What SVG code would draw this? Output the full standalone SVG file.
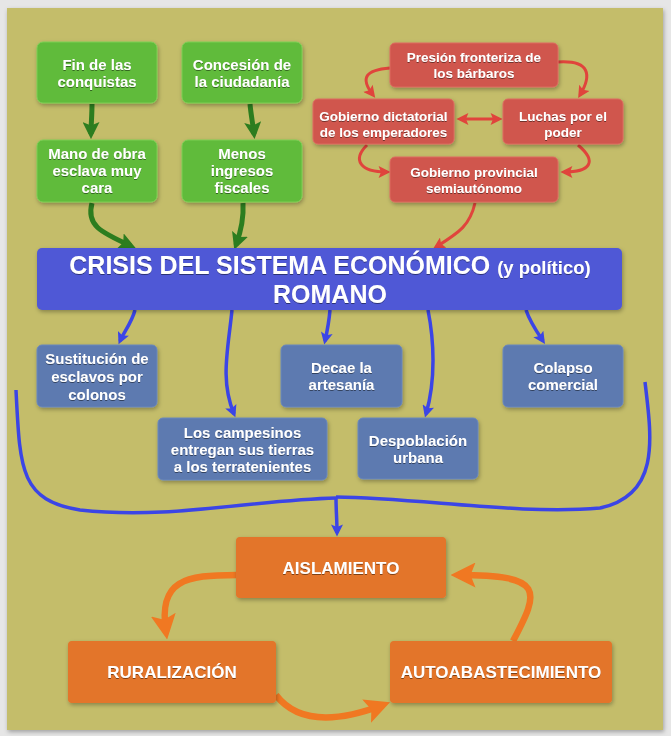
<svg xmlns="http://www.w3.org/2000/svg" width="671" height="736" viewBox="0 0 671 736">
<defs>
<style>
.t{font-family:"Liberation Sans",Arial,Helvetica,sans-serif;font-weight:bold;fill:#ffffff;text-anchor:middle;filter:url(#ts)}
.g{fill:#60bb3b;stroke:#7ccf55;stroke-width:1}
.r{fill:#d0574e;stroke:#dd6a60;stroke-width:1}
.b{fill:#5d7ab0;stroke:#6987bd;stroke-width:1}
.o{fill:#e3742a}
.box{filter:url(#sh)}
.cg{fill:none;stroke:#2c7d1f;stroke-width:5;marker-end:url(#ag)}
.cr{fill:none;stroke:#e0443c;stroke-width:3;marker-end:url(#ar)}
.cb{fill:none;stroke:#3b45e6;stroke-width:3.5}
.co{fill:none;stroke:#f07822;stroke-width:6.5;marker-end:url(#ao)}
</style>
<filter id="sh" x="-10%" y="-15%" width="125%" height="140%">
<feDropShadow dx="1" dy="2" stdDeviation="2" flood-color="#000" flood-opacity="0.3"/>
</filter>
<filter id="ts" x="-5%" y="-20%" width="110%" height="150%">
<feDropShadow dx="0" dy="1" stdDeviation="0.7" flood-color="#000" flood-opacity="0.45"/>
</filter>
<marker id="ag" viewBox="0 0 10 10" refX="7" refY="5" markerUnits="userSpaceOnUse" markerWidth="17" markerHeight="17" orient="auto"><path d="M0,0 L10,5 L0,10 L2,5 z" fill="#2c7d1f"/></marker>
<marker id="ar" viewBox="0 0 10 10" refX="7" refY="5" markerUnits="userSpaceOnUse" markerWidth="13" markerHeight="12" orient="auto-start-reverse"><path d="M0,0 L10,5 L0,10 L2,5 z" fill="#e0443c"/></marker>
<marker id="ab" viewBox="0 0 10 10" refX="7" refY="5" markerUnits="userSpaceOnUse" markerWidth="15" markerHeight="12" orient="auto"><path d="M0,0 L10,5 L0,10 L2,5 z" fill="#3b45e6"/></marker>
<marker id="ao" viewBox="0 0 10 10" refX="7" refY="5" markerUnits="userSpaceOnUse" markerWidth="25" markerHeight="25" orient="auto"><path d="M0,0 L10,5 L0,10 L2,5 z" fill="#f07822"/></marker>
</defs>
<rect x="0" y="0" width="671" height="736" fill="#e6e6e6"/>
<rect x="7" y="8" width="656" height="722" fill="#c4bd6b" filter="url(#sh)"/>

<g id="connectors">
<path class="cg" d="M92,104 C92,115 91,125 91,134"/>
<path class="cg" d="M250,104 C251,115 253,125 254,134"/>
<path class="cg" d="M92,203 C86,225 100,232 131,246"/>
<path class="cg" d="M243,203 C244,220 240,234 236,245"/>
<path class="cr" d="M390,68 C365,70 360,78 373,95"/>
<path class="cr" d="M558,62 C590,60 592,75 580,95"/>
<path class="cr" d="M460,119 L499,119" style="marker-start:url(#ar)"/>
<path class="cr" d="M367,145 C352,160 360,172 387,172"/>
<path class="cr" d="M578,145 C598,162 590,172 564,172"/>
<path class="cr" d="M475,203 C470,225 460,232 436,247"/>
<path class="cb" style="marker-end:url(#ab)" d="M135,310 C132,322 124,332 120,341"/>
<path class="cb" style="marker-end:url(#ab)" d="M232,310 C228,350 220,380 234,414"/>
<path class="cb" style="marker-end:url(#ab)" d="M330,310 C329,322 327,332 325,341"/>
<path class="cb" style="marker-end:url(#ab)" d="M428,310 C434,340 436,380 426,414"/>
<path class="cb" style="marker-end:url(#ab)" d="M526,310 C530,322 537,332 543,341"/>
<path class="cb" d="M16,390 C20,470 20,500 80,510 C170,520 250,500 336,498"/>
<path class="cb" d="M645,382 C652,440 660,495 600,508 C520,515 420,498 336,497"/>
<path class="cb" style="marker-end:url(#ab)" d="M336,498 C336,510 337,520 337,533"/>
<path class="co" d="M237,575 C185,575 158,580 166,632"/>
<path class="co" d="M276,695 C295,720 330,725 383,705"/>
<path class="co" d="M513,641 C540,590 545,575 458,575"/>
</g>

<g id="n-fin" class="box"><rect class="g" x="37" y="42" width="120" height="61" rx="6"/><text class="t" font-size="15" x="97" y="70">Fin de las</text><text class="t" font-size="15" x="97" y="87">conquistas</text></g>
<g id="n-concesion" class="box"><rect class="g" x="182" y="42" width="120" height="61" rx="6"/><text class="t" font-size="15" x="242" y="70">Concesión de</text><text class="t" font-size="15" x="242" y="87">la ciudadanía</text></g>
<g id="n-mano" class="box"><rect class="g" x="37" y="140" width="120" height="62" rx="6"/><text class="t" font-size="15" x="97" y="159">Mano de obra</text><text class="t" font-size="15" x="97" y="176">esclava muy</text><text class="t" font-size="15" x="97" y="193">cara</text></g>
<g id="n-menos" class="box"><rect class="g" x="182" y="140" width="120" height="62" rx="6"/><text class="t" font-size="15" x="242" y="159">Menos</text><text class="t" font-size="15" x="242" y="176">ingresos</text><text class="t" font-size="15" x="242" y="193">fiscales</text></g>

<g id="n-presion" class="box"><rect class="r" x="390" y="43" width="168" height="44" rx="5"/><text class="t" font-size="13.5" x="474" y="62">Presión fronteriza de</text><text class="t" font-size="13.5" x="474" y="78">los bárbaros</text></g>
<g id="n-dictatorial" class="box"><rect class="r" x="313" y="99" width="141" height="45" rx="5"/><text class="t" font-size="13.5" x="383.5" y="121">Gobierno dictatorial</text><text class="t" font-size="13.5" x="383.5" y="137">de los emperadores</text></g>
<g id="n-luchas" class="box"><rect class="r" x="503" y="99" width="120" height="45" rx="5"/><text class="t" font-size="13.5" x="563" y="121">Luchas por el</text><text class="t" font-size="13.5" x="563" y="137">poder</text></g>
<g id="n-provincial" class="box"><rect class="r" x="390" y="157" width="168" height="45" rx="5"/><text class="t" font-size="13.5" x="474" y="177">Gobierno provincial</text><text class="t" font-size="13.5" x="474" y="193">semiautónomo</text></g>

<g id="n-crisis" class="box"><rect x="37" y="248" width="585" height="62" rx="5" fill="#4f58d6"/><text class="t" x="330" y="274"><tspan font-size="25">CRISIS DEL SISTEMA ECONÓMICO </tspan><tspan font-size="18.5">(y político)</tspan></text><text class="t" font-size="25" x="330" y="303">ROMANO</text></g>

<g id="n-sustitucion" class="box"><rect class="b" x="37" y="345" width="120" height="62" rx="5"/><text class="t" font-size="15" x="97" y="364">Sustitución de</text><text class="t" font-size="15" x="97" y="382">esclavos por</text><text class="t" font-size="15" x="97" y="400">colonos</text></g>
<g id="n-campesinos" class="box"><rect class="b" x="158" y="418" width="169" height="62" rx="5"/><text class="t" font-size="15" x="242.5" y="438">Los campesinos</text><text class="t" font-size="15" x="242.5" y="455">entregan sus tierras</text><text class="t" font-size="15" x="242.5" y="472">a los terratenientes</text></g>
<g id="n-decae" class="box"><rect class="b" x="281" y="345" width="121" height="62" rx="5"/><text class="t" font-size="15" x="341.5" y="373">Decae la</text><text class="t" font-size="15" x="341.5" y="390">artesanía</text></g>
<g id="n-despoblacion" class="box"><rect class="b" x="358" y="418" width="120" height="61" rx="5"/><text class="t" font-size="15" x="418" y="446">Despoblación</text><text class="t" font-size="15" x="418" y="463">urbana</text></g>
<g id="n-colapso" class="box"><rect class="b" x="503" y="345" width="120" height="62" rx="5"/><text class="t" font-size="15" x="563" y="373">Colapso</text><text class="t" font-size="15" x="563" y="390">comercial</text></g>

<g id="n-aislamiento" class="box"><rect class="o" x="236" y="537" width="210" height="61" rx="4"/><text class="t" font-size="17" x="341" y="574">AISLAMIENTO</text></g>
<g id="n-ruralizacion" class="box"><rect class="o" x="68" y="641" width="208" height="62" rx="4"/><text class="t" font-size="17" x="172" y="678">RURALIZACIÓN</text></g>
<g id="n-autoabastecimiento" class="box"><rect class="o" x="390" y="641" width="222" height="62" rx="4"/><text class="t" font-size="17" x="501" y="678">AUTOABASTECIMIENTO</text></g>
</svg>
